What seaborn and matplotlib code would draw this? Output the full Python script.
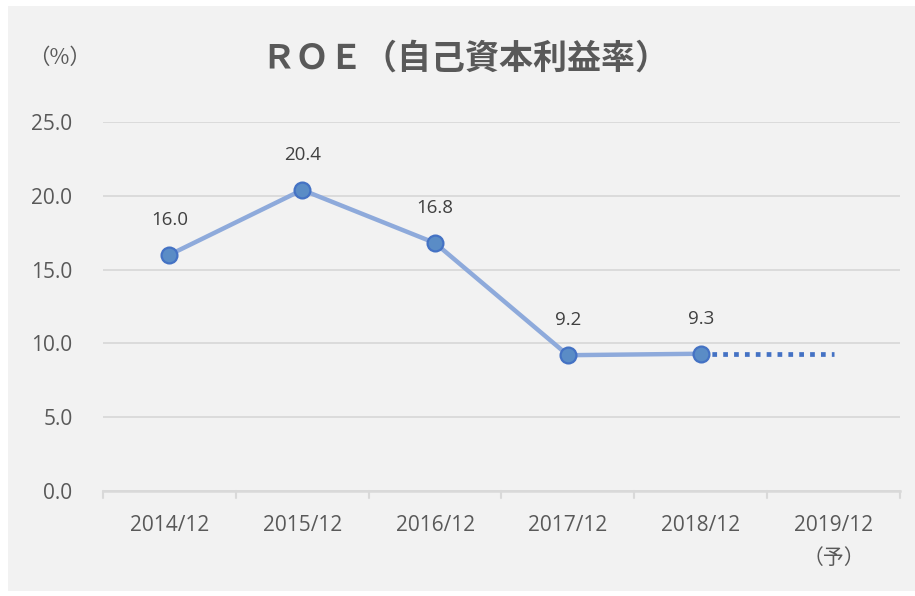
import matplotlib
matplotlib.use("Agg")
import matplotlib.pyplot as plt
import seaborn as sns
import pandas as pd
from matplotlib.patches import Rectangle

categories = ["2014/12", "2015/12", "2016/12", "2017/12", "2018/12", "2019/12\n（予）"]
roe_actual = [16.0, 20.4, 16.8, 9.2, 9.3]
roe_forecast = [9.3, 9.3]  # 2018/12 -> 2019/12 (forecast, dotted)
yticks = [0, 5, 10, 15, 20, 25]

sns.set_theme(style="white")
FAM = ['Open Sans', 'Noto Sans CJK JP', 'DejaVu Sans']
plt.rcParams['font.family'] = FAM

fig = plt.figure(figsize=(9.15, 5.96), dpi=100)
fig.patch.set_facecolor("white")
bg = Rectangle((8/915, 1-591/596), 1-8/915, 585/596,
               transform=fig.transFigure, facecolor="#f2f2f2",
               edgecolor="none", zorder=-10)
fig.patches.append(bg)

ax = fig.add_axes([103/915, 1-491/596, 797/915, 369/596])
ax.set_zorder(5)
ax.patch.set_alpha(0)

df_a = pd.DataFrame({"x": list(range(len(roe_actual))), "y": roe_actual})
df_f = pd.DataFrame({"x": [len(roe_actual)-1, len(roe_actual)], "y": roe_forecast})

sns.lineplot(data=df_f, x="x", y="y", ax=ax, color="#4472c4", lw=3.4,
             linestyle=(0, (1, 1.3)), zorder=2)
sns.lineplot(data=df_a, x="x", y="y", ax=ax, color="#8eaadb", lw=3.2, zorder=3)
sns.scatterplot(data=df_a, x="x", y="y", ax=ax, color="#5a8cc6", s=130,
                edgecolor="#4472c4", linewidth=1.6, zorder=4)

for xi, v in zip(df_a["x"], df_a["y"]):
    ax.annotate(f"{v:.1f}", (xi, v), xytext=(0, 25), textcoords="offset points",
                ha="center", va="center", fontsize=13.5, color="#404040")

ax.set_xlim(-0.5, len(categories)-0.5)
ax.set_ylim(0, 25)
ax.set_yticks(yticks)
ax.set_yticklabels([f"{t:.1f}" for t in yticks], fontsize=15, color="#595959")
ax.grid(axis="y", color="#d9d9d9", lw=1.3)
ax.set_axisbelow(True)

ax.set_xticks([i for i in range(len(categories))])
ax.set_xticklabels(categories, fontsize=15, color="#595959", linespacing=1.8)
ax.tick_params(axis="x", length=0, pad=17)
ax.tick_params(axis="y", length=0, pad=22)
# category boundary ticks
for b in [i - 0.5 for i in range(len(categories)+1)]:
    ax.plot([b, b], [0, -0.5], color="#d9d9d9", lw=1.5, clip_on=False, zorder=1)

for s in ["top", "right", "left"]:
    ax.spines[s].set_visible(False)
ax.spines["bottom"].set_color("#d9d9d9")
ax.spines["bottom"].set_linewidth(1.8)
ax.set_xlabel("")
ax.set_ylabel("")

fig.text(465/915, 1-58/596, "ＲＯＥ（自己資本利益率）", ha="center", va="center",
         fontsize=24.5, color="#595959", fontweight="bold",
         family=['Noto Sans CJK JP', 'DejaVu Sans'])
fig.text(60/915, 1-58/596, "（%）", ha="center", va="center",
         fontsize=15.5, color="#595959", family=['Noto Sans CJK JP', 'DejaVu Sans'])

fig.savefig("out.png", dpi=100, facecolor="white")
